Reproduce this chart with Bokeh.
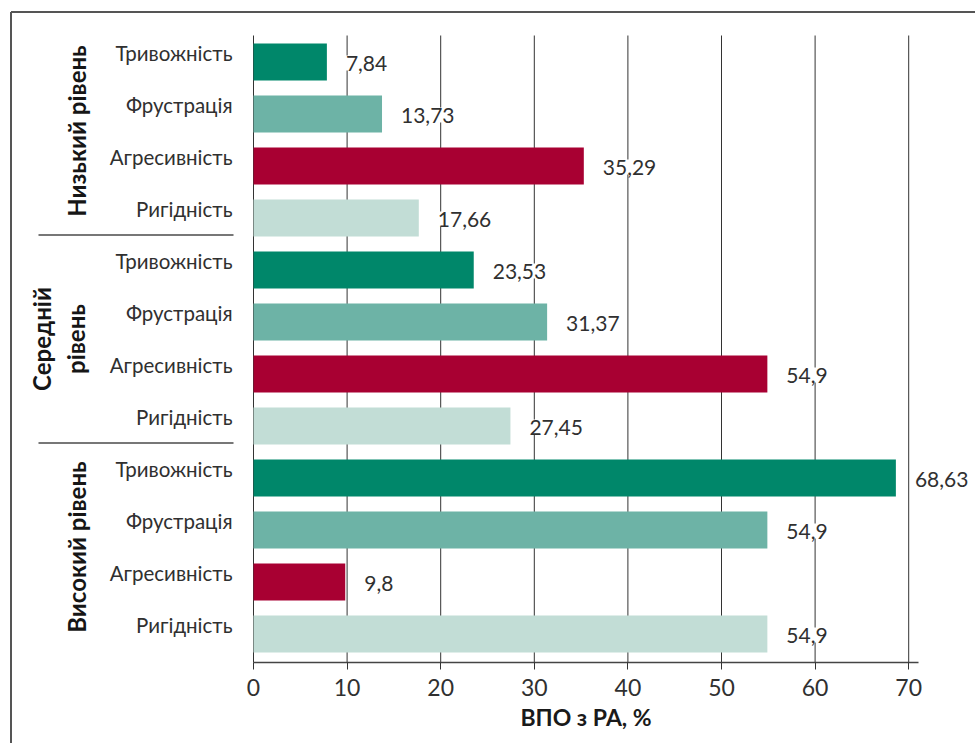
import math

from bokeh.core.properties import value
from bokeh.embed import file_html
from bokeh.models import Arrow, ColumnDataSource, FixedTicker, Label, LabelSet, LinearAxis, Range1d
from bokeh.plotting import figure
from bokeh.resources import INLINE

# ---- data -------------------------------------------------------------
groups = ["Низький рівень", "Середній рівень", "Високий рівень"]
group_titles = ["Низький рівень", "Середній\nрівень", "Високий рівень"]
categories = ["Тривожність", "Фрустрація", "Агресивність", "Ригідність"]
low_values = [7.84, 13.73, 35.29, 17.66]
mid_values = [23.53, 31.37, 54.9, 27.45]
high_values = [68.63, 54.9, 9.8, 54.9]
tick_values = [0, 10, 20, 30, 40, 50, 60, 70]
axis_title = "ВПО з РА, %"
palette = ["#00876A", "#6DB3A6", "#A80032", "#C2DDD6"]

# ---- layout -----------------------------------------------------------
W, H = 975, 743
X0_PX = 253          # pixel column of value 0
PX_PER_UNIT = 9.36   # pixels per percentage point
ROW0_PX = 61.5       # pixel row of the first bar's centre
ROW_PX = 52.0        # pixels between bar centres
PLOT_TOP_PX, AXIS_PX, AXIS_END_PX = 35, 662, 918
FONT = "Lato"
TEXT_COLOR = "#303030"

series = [low_values, mid_values, high_values]
n_rows = len(groups) * len(categories)


def dx(px):
    return (px - X0_PX) / PX_PER_UNIT


def dy(py):
    return (n_rows - 1) - (py - ROW0_PX) / ROW_PX


# the plot frame spans the whole canvas; every mark is placed in data units
x_range = Range1d(dx(0), dx(W))
y_range = Range1d(dy(H), dy(0))
x_max = dx(AXIS_END_PX)
axis_y = dy(AXIS_PX)
top_y = dy(PLOT_TOP_PX)

pos, vals, cats, cols, txt, base = [], [], [], [], [], []
for gi, vals_g in enumerate(series):
    for ci, cat in enumerate(categories):
        pos.append(n_rows - 1 - (gi * len(categories) + ci))
        vals.append(vals_g[ci])
        cats.append(cat)
        cols.append(palette[ci])
        txt.append(f"{vals_g[ci]:g}".replace(".", ","))
        base.append(0)

src = ColumnDataSource(dict(pos=pos, val=vals, cat=cats, color=cols, txt=txt, base=base))

p = figure(
    width=W, height=H,
    x_range=x_range, y_range=y_range,
    output_backend="svg", toolbar_location=None,
    x_axis_location=None, y_axis_location=None,
    min_border=0, min_border_left=0, min_border_right=0,
    min_border_top=0, min_border_bottom=0,
    outline_line_color=None,
    background_fill_color="white", border_fill_color="white",
)
p.grid.visible = False

# vertical grid lines at the ticks, behind the bars
p.segment(x0=tick_values, y0=[axis_y] * len(tick_values),
          x1=tick_values, y1=[top_y] * len(tick_values),
          line_color="#333333", line_width=1, level="underlay")

# value axis, pinned to the bottom of the bar area
ax = LinearAxis(fixed_location=axis_y, bounds=(0, x_max))
ax.ticker = FixedTicker(ticks=tick_values, minor_ticks=[])
ax.axis_line_color = "#444444"
ax.axis_line_width = 1.5
ax.major_tick_line_color = "#333333"
ax.major_tick_in = 0
ax.major_tick_out = 7
ax.minor_tick_line_color = None
ax.major_label_text_font = FONT
ax.major_label_text_font_size = "23px"
ax.major_label_text_color = TEXT_COLOR
ax.major_label_standoff = 9
ax.axis_label = axis_title
ax.axis_label_text_font = FONT
ax.axis_label_text_font_style = "bold"
ax.axis_label_text_font_size = "23px"
ax.axis_label_text_color = "#1a1a1a"
ax.axis_label_standoff = 4
p.add_layout(ax, "below")

# bars
p.hbar(y="pos", left=0, right="val", height=37 / ROW_PX, fill_color="color",
       line_color=None, source=src)

# value labels
p.add_layout(LabelSet(
    x="val", y="pos", text="txt", source=src,
    x_offset=19, y_offset=-1,
    text_align="left", text_baseline="middle",
    text_font=value(FONT), text_font_size="21px", text_color=TEXT_COLOR,
    background_fill_color="white",
))

# category labels
p.add_layout(LabelSet(
    x="base", y="pos", text="cat", source=src,
    x_offset=-21, y_offset=9,
    text_align="right", text_baseline="middle",
    text_font=value(FONT), text_font_size="20.5px", text_color=TEXT_COLOR,
))

# group titles, rotated
for gi, title in enumerate(group_titles):
    rows = pos[gi * len(categories):(gi + 1) * len(categories)]
    p.add_layout(Label(
        x=dx(90), y=sum(rows) / len(rows), y_offset=9,
        text=title, angle=math.pi / 2,
        text_align="center", text_baseline="bottom",
        text_font=FONT, text_font_style="bold", text_font_size="24px",
        text_color="#161616",
    ))

# separators between groups
for gi in range(len(groups) - 1):
    last_row = pos[(gi + 1) * len(categories) - 1]
    next_row = pos[(gi + 1) * len(categories)]
    ysep = (last_row + next_row) / 2 + 9 / ROW_PX
    p.add_layout(Arrow(start=None, end=None,
                       x_start=dx(38), y_start=ysep, x_end=dx(233), y_end=ysep,
                       line_color="#777777", line_width=2))

# panel border (left and top edges)
p.add_layout(Arrow(start=None, end=None,
                   x_start=dx(10.5), y_start=dy(H + 5), x_end=dx(10.5), y_end=dy(11.5),
                   line_color="#555555", line_width=2))
p.add_layout(Arrow(start=None, end=None,
                   x_start=dx(10.5), y_start=dy(11.5), x_end=dx(W + 5), y_end=dy(11.5),
                   line_color="#555555", line_width=2))

open("out.html", "w").write(file_html(p, INLINE))
